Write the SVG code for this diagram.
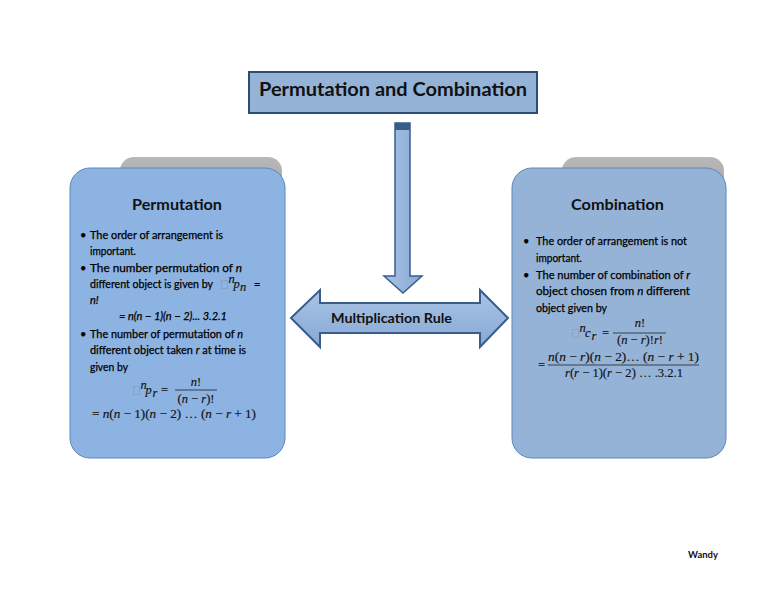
<svg xmlns="http://www.w3.org/2000/svg" width="768" height="594" viewBox="0 0 768 594">
<defs>
<linearGradient id="gGray" x1="0" y1="0" x2="0" y2="1"><stop offset="0" stop-color="#b8b8b8"/><stop offset="1" stop-color="#9c9c9c"/></linearGradient>
<linearGradient id="gArrow" x1="0" y1="0" x2="0" y2="1"><stop offset="0" stop-color="#a9c3e4"/><stop offset="1" stop-color="#86a9d6"/></linearGradient>
<linearGradient id="gDown" x1="0" y1="0" x2="1" y2="0"><stop offset="0" stop-color="#a9c3e4"/><stop offset="1" stop-color="#86a9d6"/></linearGradient>
</defs>
<style>
.t{font-family:Lato,"Liberation Sans",sans-serif;fill:#111;}
.h{font-weight:bold;}
.b{font-family:Lato,"Liberation Sans",sans-serif;font-size:11px;fill:#000;stroke:#000;stroke-width:0.25;}
.i{font-style:italic;}
.m{font-family:"Liberation Serif","DejaVu Serif",serif;font-size:12.5px;fill:#111;stroke:#111;stroke-width:0.15;}
.ph{fill:none;stroke:#888;stroke-width:0.7;stroke-dasharray:1 1;}
.card{stroke:#5b87c0;stroke-width:1;}
.back{fill:url(#gGray);}
.fr{stroke:#222;stroke-width:0.8;}
</style>
<rect width="768" height="594" fill="#ffffff"/>

<g id="connectors">
<polygon points="395,123 410,123 410,276 422,276 403,293 384,276 395,276" fill="url(#gDown)" stroke="#385d8a" stroke-width="1.5"/>
<rect x="395" y="123" width="15" height="7" fill="#385d8a"/>
</g>

<g id="title">
<rect x="249" y="72" width="288" height="41" fill="#95b3d7" stroke="#2c4d75" stroke-width="2"/>
<text class="t h" x="393" y="96" font-size="19" text-anchor="middle" textLength="268" lengthAdjust="spacingAndGlyphs">Permutation and Combination</text>
</g>

<g id="multiplication-rule">
<polygon points="291,318 320,290 320,303 480,303 480,290 508,318 480,347 480,333 320,333 320,347" fill="url(#gArrow)" stroke="#385d8a" stroke-width="2"/>
<text class="t h" x="391.5" y="323" font-size="14" text-anchor="middle" textLength="121" lengthAdjust="spacingAndGlyphs">Multiplication Rule</text>
</g>

<g id="permutation">
<rect class="back" x="120" y="157" width="162" height="60" rx="14"/>
<rect class="card" x="70" y="168" width="215" height="290" rx="20" fill="#8db3e2"/>
<text class="t h" x="177" y="210" font-size="15.5" text-anchor="middle" textLength="90" lengthAdjust="spacingAndGlyphs">Permutation</text>
<text class="b" x="80" y="239">•</text>
<text class="b" x="90" y="239" textLength="133" lengthAdjust="spacingAndGlyphs">The order of arrangement is</text>
<text class="b" x="90" y="255" textLength="46" lengthAdjust="spacingAndGlyphs">important.</text>
<text class="b" x="80" y="272">•</text>
<text class="b" x="90" y="272" textLength="152" lengthAdjust="spacingAndGlyphs">The number permutation of <tspan class="i">n</tspan></text>
<text class="b" x="90" y="288" textLength="123" lengthAdjust="spacingAndGlyphs">different object is given by</text>
<rect class="ph" x="221.5" y="280.5" width="6" height="8"/>
<text class="m i" x="228.5" y="283" font-size="7.5">n</text>
<text class="m i" x="233.5" y="288">p</text>
<text class="m i" x="240" y="291" font-size="8">n</text>
<text class="b" x="254" y="288">=</text>
<text class="b i" x="90" y="304">n!</text>
<text class="b i" x="119" y="320" textLength="108" lengthAdjust="spacingAndGlyphs">= n(n − 1)(n − 2)... 3.2.1</text>
<text class="b" x="80" y="338">•</text>
<text class="b" x="90" y="338" textLength="153" lengthAdjust="spacingAndGlyphs">The number of permutation of <tspan class="i">n</tspan></text>
<text class="b" x="90" y="354" textLength="156" lengthAdjust="spacingAndGlyphs">different object taken <tspan class="i">r</tspan> at time is</text>
<text class="b" x="90" y="371" textLength="38" lengthAdjust="spacingAndGlyphs">given by</text>
<rect class="ph" x="133.5" y="386.5" width="6" height="8"/>
<text class="m i" x="140.5" y="389" font-size="7.5">n</text>
<text class="m i" x="145.5" y="394">p</text>
<text class="m i" x="152.5" y="397" font-size="8">r</text>
<text class="m" x="161" y="394">=</text>
<text class="m" x="196" y="386" text-anchor="middle"><tspan class="i">n</tspan>!</text>
<line class="fr" x1="175" y1="390" x2="217" y2="390"/>
<text class="m" x="196" y="403" text-anchor="middle">(<tspan class="i">n</tspan> − <tspan class="i">r</tspan>)!</text>
<text class="m" x="92" y="418" textLength="164" lengthAdjust="spacingAndGlyphs">= <tspan class="i">n</tspan>(<tspan class="i">n</tspan> − 1)(<tspan class="i">n</tspan> − 2) … (<tspan class="i">n</tspan> − <tspan class="i">r</tspan> + 1)</text>
</g>

<g id="combination">
<rect class="back" x="562" y="157" width="162" height="60" rx="14"/>
<rect class="card" x="512" y="168" width="214" height="290" rx="20" fill="#95b3d7"/>
<text class="t h" x="617.5" y="210" font-size="15.5" text-anchor="middle" textLength="93" lengthAdjust="spacingAndGlyphs">Combination</text>
<text class="b" x="523" y="245">•</text>
<text class="b" x="536" y="245" textLength="151" lengthAdjust="spacingAndGlyphs">The order of arrangement is not</text>
<text class="b" x="536" y="262" textLength="46" lengthAdjust="spacingAndGlyphs">important.</text>
<text class="b" x="523" y="279">•</text>
<text class="b" x="536" y="279" textLength="154" lengthAdjust="spacingAndGlyphs">The number of combination of <tspan class="i">r</tspan></text>
<text class="b" x="536" y="295" textLength="154" lengthAdjust="spacingAndGlyphs">object chosen from <tspan class="i">n</tspan> different</text>
<text class="b" x="536" y="312" textLength="71" lengthAdjust="spacingAndGlyphs">object given by</text>
<rect class="ph" x="572.5" y="329.5" width="6" height="8"/>
<text class="m i" x="579.5" y="332" font-size="7.5">n</text>
<text class="m i" x="585" y="337">c</text>
<text class="m i" x="591.5" y="340" font-size="8">r</text>
<text class="m" x="602" y="337">=</text>
<text class="m" x="640" y="327" text-anchor="middle"><tspan class="i">n</tspan>!</text>
<line class="fr" x1="613" y1="333" x2="666" y2="333"/>
<text class="m" x="640" y="344" text-anchor="middle">(<tspan class="i">n</tspan> − <tspan class="i">r</tspan>)!<tspan class="i">r</tspan>!</text>
<text class="m" x="538" y="369">=</text>
<text class="m" x="623.5" y="361" text-anchor="middle" textLength="151" lengthAdjust="spacingAndGlyphs"><tspan class="i">n</tspan>(<tspan class="i">n</tspan> − <tspan class="i">r</tspan>)(<tspan class="i">n</tspan> − 2)… (<tspan class="i">n</tspan> − <tspan class="i">r</tspan> + 1)</text>
<line class="fr" x1="548" y1="365" x2="699" y2="365"/>
<text class="m" x="624" y="377" text-anchor="middle" textLength="118" lengthAdjust="spacingAndGlyphs"><tspan class="i">r</tspan>(<tspan class="i">r</tspan> − 1)(<tspan class="i">r</tspan> − 2) … .3.2.1</text>
</g>

<text class="t" x="703" y="558" font-size="9" text-anchor="middle" font-weight="bold" textLength="30" lengthAdjust="spacingAndGlyphs">Wandy</text>
</svg>
